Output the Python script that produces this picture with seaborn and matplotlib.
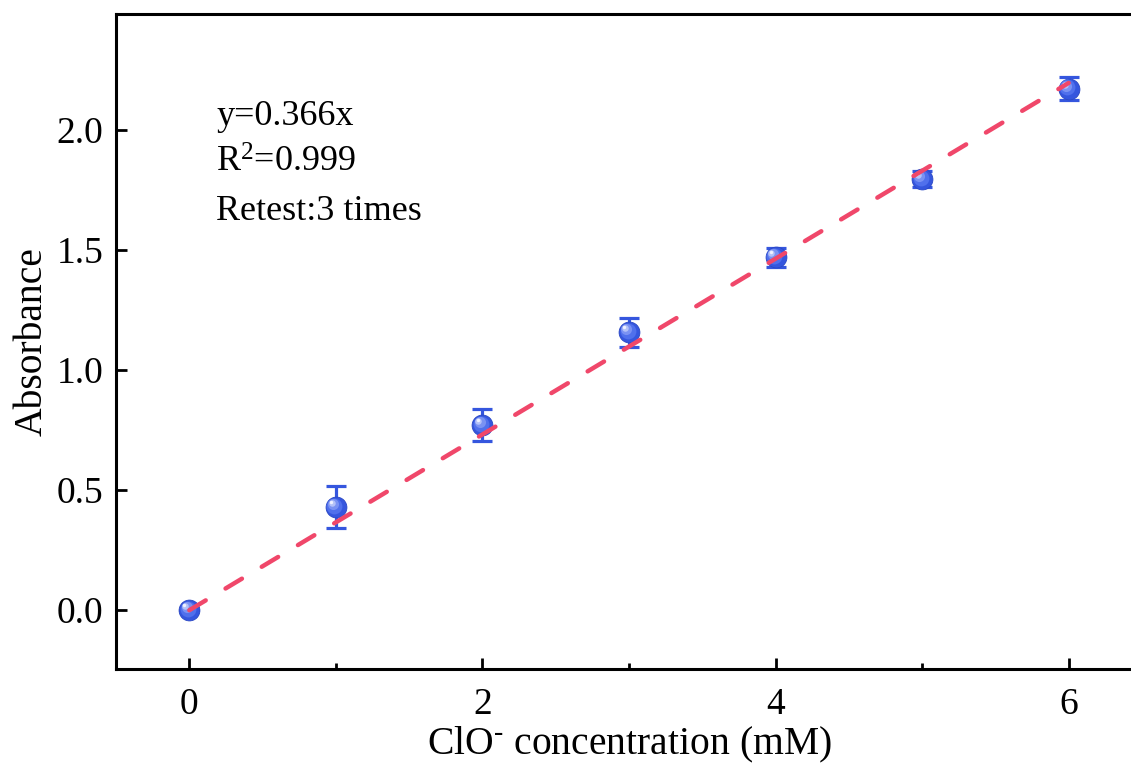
import matplotlib
matplotlib.use("Agg")
import matplotlib.pyplot as plt
import matplotlib.transforms as mtransforms
import numpy as np
import pandas as pd
import seaborn as sns

# Measured absorbance vs. hypochlorite concentration (mean ± SD, n = 3)
conc_mM = [0, 1, 2, 3, 4, 5, 6]
absorbance = [0.0, 0.43, 0.771, 1.158, 1.470, 1.796, 2.172]
abs_sd = [0.0, 0.088, 0.067, 0.060, 0.040, 0.035, 0.048]

# Linear fit through the origin
fit_slope = 0.366
fit_x = [0, 6]
fit_y = [fit_slope * v for v in fit_x]

annotation_lines = ["y=0.366x", "R$^{2}$=0.999", "Retest:3 times"]
x_ticks = [0, 2, 4, 6]
x_minor = [1, 3, 5]
y_ticks = [0.0, 0.5, 1.0, 1.5, 2.0]

df = pd.DataFrame({"conc": conc_mM, "abs": absorbance, "sd": abs_sd})
fit_df = pd.DataFrame({"conc": fit_x, "abs": fit_y})

sns.set_theme(style="ticks")
plt.rcParams["font.family"] = ["Liberation Serif", "DejaVu Serif"]
plt.rcParams["mathtext.fontset"] = "custom"
plt.rcParams["mathtext.rm"] = "Liberation Serif"
plt.rcParams["mathtext.it"] = "Liberation Serif:italic"
plt.rcParams["mathtext.bf"] = "Liberation Serif:bold"
for key in ["text.color", "axes.labelcolor", "xtick.color", "ytick.color",
            "axes.edgecolor"]:
    plt.rcParams[key] = "black"

fig = plt.figure(figsize=(11.31, 7.64), dpi=100)
ax = fig.add_axes([0.1026, 0.1243, 0.9071, 0.858])

blue = "#3556DE"
red = "#F0476A"

# Error bars underneath the markers
ax.errorbar(df["conc"], df["abs"], yerr=df["sd"], fmt="none",
            ecolor=blue, elinewidth=2.3, capsize=7, capthick=2.3, zorder=2)

# Shaded spheres: stacked circles drifting toward the upper-left highlight
sns.scatterplot(data=df, x="conc", y="abs", ax=ax, s=225, color=blue,
                edgecolor="#2a47c4", linewidth=0.6, zorder=3, legend=False)
shades = [("#5070ec", 130, -1.0, 1.0), ("#7a92f3", 64, -2.0, 2.0),
          ("#b4c2f8", 22, -3.0, 3.0), ("#eef1ff", 6, -3.5, 3.5)]
for col, size, dx, dy in shades:
    tr = mtransforms.offset_copy(ax.transData, fig=fig, x=dx, y=dy, units="points")
    ax.scatter(df["conc"], df["abs"], s=size, color=col, linewidth=0,
               transform=tr, zorder=4)

# Dashed fit line on top
sns.lineplot(data=fit_df, x="conc", y="abs", ax=ax, color=red, linewidth=3.2,
             zorder=5, legend=False)
ax.lines[-1].set_dashes([4.3, 5.2])
ax.lines[-1].set_dash_capstyle("round")

ax.set_xlim(-0.5, 6.5)
ax.set_ylim(-0.245, 2.485)
ax.set_xticks(x_ticks)
ax.set_xticks(x_minor, minor=True)
ax.set_yticks(y_ticks)
ax.set_yticklabels([f"{v:.1f}" for v in y_ticks])

for side in ["left", "bottom", "top", "right"]:
    ax.spines[side].set_linewidth(2.2)
    ax.spines[side].set_color("black")

ax.tick_params(axis="both", which="major", direction="in", length=8, width=2.0,
               labelsize=27, pad=13, colors="black")
ax.tick_params(axis="x", which="minor", direction="in", length=4.5, width=2.0)
ax.tick_params(axis="y", which="major", pad=9)

ax.set_xlabel("ClO$^{\\text{-}}$ concentration (mM)", fontsize=28.5, labelpad=2)
ax.set_ylabel("Absorbance", fontsize=28.5, labelpad=4)

for text, yfrac in zip(annotation_lines, [0.830, 0.758, 0.6855]):
    ax.text(0.0975, yfrac, text, transform=ax.transAxes, fontsize=26,
            va="baseline", ha="left", color="black")

fig.savefig("out.png", dpi=100)
